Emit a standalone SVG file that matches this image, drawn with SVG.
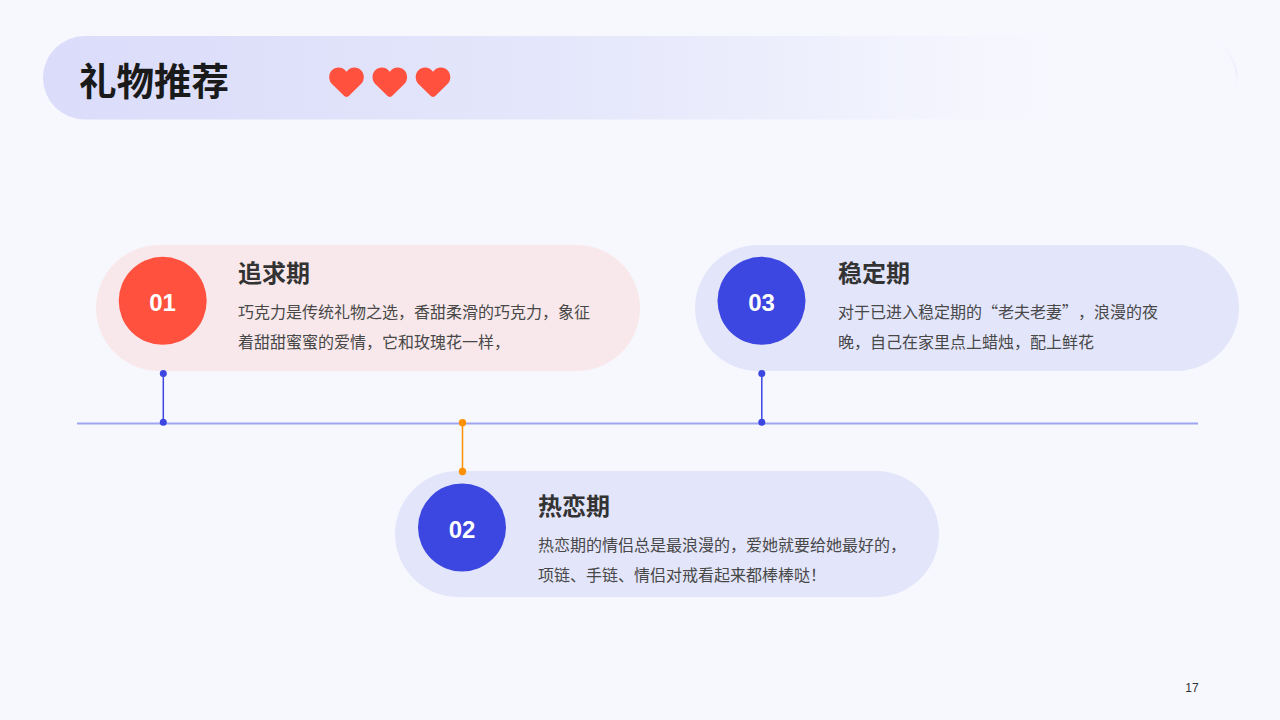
<svg xmlns="http://www.w3.org/2000/svg" width="1280" height="720" viewBox="0 0 1280 720">
<style>
text{font-family:"Liberation Sans","Noto Sans CJK SC",sans-serif}
.t{font-size:24px;font-weight:700;fill:#333333}
.b{font-size:16px;fill:#484848;font-family:"Noto Sans CJK SC",sans-serif;text-spacing-trim:space-all;font-feature-settings:"chws" 0}
.n{font-size:24px;font-weight:700;fill:#ffffff;text-anchor:middle}
.pk{fill:#f8e8eb}
.bl{fill:#e3e5fa}
</style>
<defs>
<linearGradient id="hg" x1="0" y1="0" x2="1" y2="0">
<stop offset="0" stop-color="#dadcfa"/>
<stop offset="0.45" stop-color="#e5e7fb"/>
<stop offset="0.84" stop-color="#f7f8fe"/>
<stop offset="1" stop-color="#f7f8fe"/>
</linearGradient>
<linearGradient id="cr" x1="0" y1="0" x2="0" y2="1">
<stop offset="0" stop-color="#f7f8fe"/>
<stop offset="0.6" stop-color="#ecedfb"/>
<stop offset="1" stop-color="#f7f8fe"/>
</linearGradient>
<path id="heart" d="M0 14.500C-1 14.500-2 13.800-3 12.800L-14.500 1.500C-16.500-.5-17.300-3-17.300-5.500C-17.300-11-13-15-8-15C-4.800-15-2-13.500 0-10.800C2-13.500 4.800-15 8-15C13-15 17.300-11 17.300-5.500C17.300-3 16.500-.5 14.500 1.500L3 12.800C2 13.800 1 14.500 0 14.500Z" fill="#ff513e"/>
</defs>
<rect width="1280" height="720" fill="#f7f8fe"/>
<g id="header">
<rect x="43" y="36" width="1194" height="83.500" rx="41.750" fill="url(#hg)"/>
<path d="M1217 42A41.750 41.750 0 0 1 1236 90A52 52 0 0 0 1217 42Z" fill="url(#cr)"/>
<text x="79" y="95" font-size="37.500" font-weight="700" fill="#1a1a1a">礼物推荐</text>
<use href="#heart" x="346.500" y="82.500"/>
<use href="#heart" x="389.800" y="82.500"/>
<use href="#heart" x="433" y="82.500"/>
</g>
<g id="node-01">
<rect class="pk" x="96" y="245" width="544" height="126" rx="63"/>
<circle cx="162.700" cy="300.800" r="44" fill="#ff513e"/>
<text class="n" x="162.500" y="311">01</text>
<text class="t" x="238" y="281.500">追求期</text>
<text class="b" x="238" y="318">巧克力是传统礼物之选，香甜柔滑的巧克力，象征</text>
<text class="b" x="238" y="347.500">着甜甜蜜蜜的爱情，它和玫瑰花一样，</text>
</g>
<g id="node-02">
<rect class="bl" x="395" y="471" width="544" height="126" rx="63"/>
<circle cx="462" cy="527.500" r="44" fill="#3c46e0"/>
<text class="n" x="462" y="537.500">02</text>
<text class="t" x="538" y="514.500">热恋期</text>
<text class="b" x="538" y="551">热恋期的情侣总是最浪漫的，爱她就要给她最好的，</text>
<text class="b" x="538" y="581">项链、手链、情侣对戒看起来都棒棒哒！</text>
</g>
<g id="node-03">
<rect class="bl" x="695" y="245" width="544" height="126" rx="63"/>
<circle cx="761.500" cy="300.800" r="44" fill="#3c46e0"/>
<text class="n" x="761.500" y="311">03</text>
<text class="t" x="838" y="281.500">稳定期</text>
<text class="b" x="838" y="318">对于已进入稳定期的“老夫老妻”，浪漫的夜</text>
<text class="b" x="838" y="347.500">晚，自己在家里点上蜡烛，配上鲜花</text>
</g>
<g id="connectors">
<line x1="77" y1="423.500" x2="1198" y2="423.500" stroke="#9ea5f3" stroke-width="2"/>
<g stroke="#3c46e0" stroke-width="1.500" fill="#3c46e0">
<line x1="163.300" y1="373" x2="163.300" y2="422"/>
<line x1="761.800" y1="373" x2="761.800" y2="422"/>
<circle cx="163.300" cy="373.500" r="3.500" stroke="none"/>
<circle cx="163.300" cy="422.300" r="3.500" stroke="none"/>
<circle cx="761.800" cy="373.500" r="3.500" stroke="none"/>
<circle cx="761.800" cy="422.300" r="3.500" stroke="none"/>
</g>
<g stroke="#ff9100" stroke-width="1.500" fill="#ff9100">
<line x1="462.500" y1="423" x2="462.500" y2="471.500"/>
<circle cx="462.500" cy="422.800" r="3.700" stroke="none"/>
<circle cx="462.500" cy="471.500" r="3.700" stroke="none"/>
</g>
</g>
<text x="1192" y="692" font-size="12" fill="#333333" text-anchor="middle">17</text>
</svg>
